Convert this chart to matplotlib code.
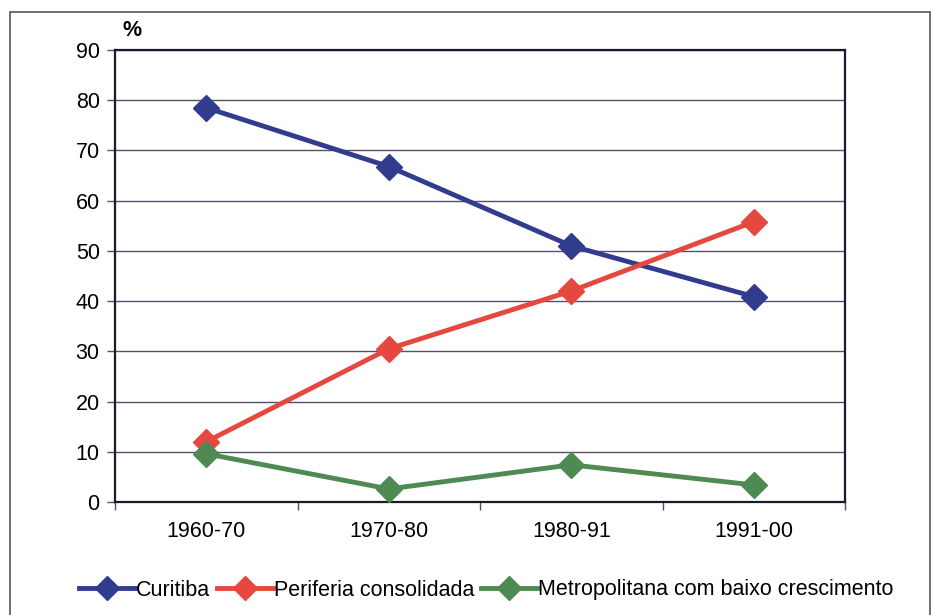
import matplotlib
matplotlib.use("Agg")
import matplotlib.pyplot as plt
from matplotlib.lines import Line2D
from matplotlib.patches import Rectangle

categories = ["1960-70", "1970-80", "1980-91", "1991-00"]
curitiba = [78.5, 66.8, 51.0, 40.9]
periferia = [12.0, 30.5, 42.0, 55.8]
metropolitana = [9.6, 2.6, 7.4, 3.4]
series_names = ["Curitiba", "Periferia consolidada", "Metropolitana com baixo crescimento"]
colors = ["#323C8E", "#E5483E", "#4F8A52"]
yticks = [0, 10, 20, 30, 40, 50, 60, 70, 80, 90]

plt.rcParams['font.family'] = ['Liberation Sans', 'DejaVu Sans']
FS = 15.5

fig = plt.figure(figsize=(9.34, 6.15), dpi=100)
fig.patches.append(Rectangle((10/934, -0.05), 920/934, 1 - 12/615 + 0.05,
                             transform=fig.transFigure, fill=False,
                             edgecolor="#555566", linewidth=1.2))
ax = fig.add_axes([115/934, 1 - 502/615, 730/934, 452/615])

x = list(range(len(categories)))
for vals, name, c in zip([curitiba, periferia, metropolitana], series_names, colors):
    ax.plot(x, vals, color=c, linewidth=3.5, marker="D", markersize=13,
            markeredgecolor=c, label=name, zorder=3)

ax.set_xlim(-0.5, 3.5)
ax.set_ylim(0, 90)
ax.set_yticks(yticks)
ax.set_yticklabels([str(v) for v in yticks], fontsize=FS)
ax.set_xticks([i + 0.5 for i in range(-1, 4)], minor=False)
ax.set_xticklabels([])
ax.set_xticks(x, minor=True)
ax.set_xticklabels(categories, minor=True, fontsize=FS)
ax.tick_params(axis='x', which='minor', length=0, pad=14)
ax.tick_params(axis='x', which='major', length=6, width=1, color="#555555")
ax.tick_params(axis='y', length=6, width=1, color="#555555", pad=5)
ax.grid(axis='y', color="#55506A", linewidth=1.0, zorder=0)
for s in ax.spines.values():
    s.set_linewidth(1.6)
    s.set_color("#1A1A2A")

fig.text(132/934, 1 - 30/615, "%", fontsize=FS, fontweight='bold', ha='center', va='center')

handles = [Line2D([0], [0], color=c, linewidth=3.5, marker="D", markersize=12) for c in colors]
fig.legend(handles, series_names, loc='center', bbox_to_anchor=(486/934, 1 - 590/615),
           ncol=3, frameon=False, fontsize=FS, handlelength=2.6, handletextpad=0.05,
           columnspacing=0.3)

fig.savefig("out.png", dpi=100)
